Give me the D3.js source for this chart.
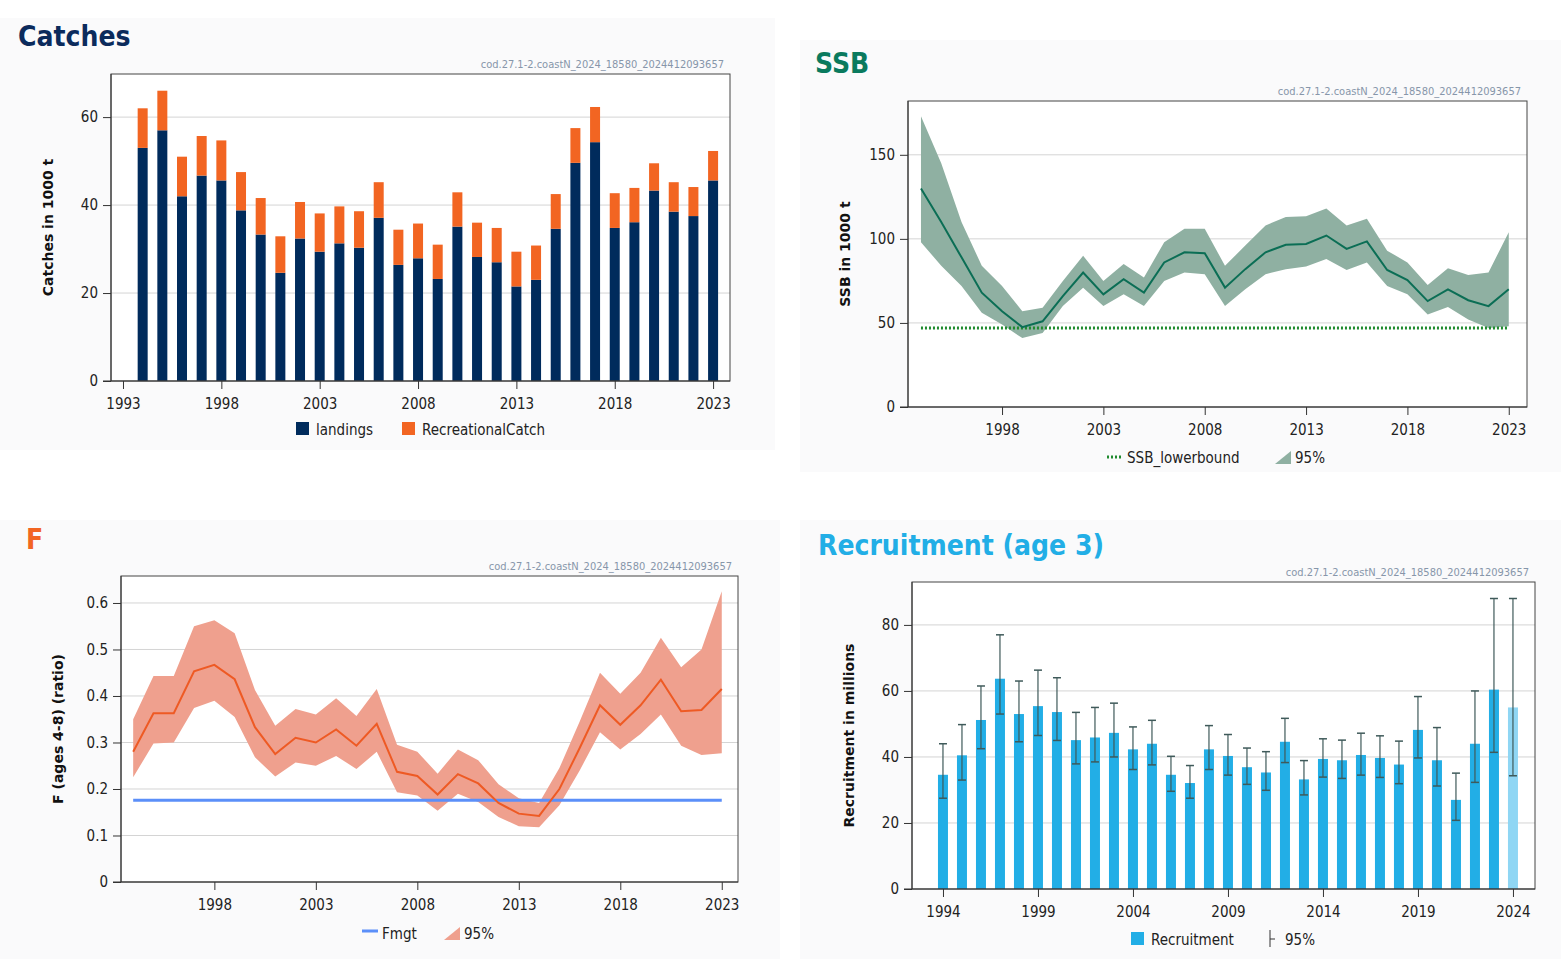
<!DOCTYPE html>
<html><head><meta charset="utf-8">
<script src="https://cdn.jsdelivr.net/npm/d3@7"></script>
<style>body{margin:0;background:#fff}svg{display:block}</style>
</head><body>
<svg id="c" width="1561" height="959"></svg>
<script>
const catchYears = d3.range(1994, 2024);
const landings = [53,57,42,46.7,45.6,38.8,33.3,24.6,32.4,29.4,31.3,30.3,37.1,26.4,27.9,23.2,35.1,28.2,27.0,21.5,23.0,34.6,49.6,54.3,34.8,36.1,43.3,38.5,37.5,45.6];
const totalCatch = [62,66,51,55.7,54.7,47.5,41.6,32.9,40.7,38.1,39.7,38.6,45.2,34.4,35.8,31.0,42.9,36.0,34.8,29.4,30.8,42.5,57.5,62.3,42.7,43.9,49.5,45.2,44.1,52.3];
const recreational = totalCatch.map((t,i)=>+(t-landings[i]).toFixed(1));

const ssbYears = d3.range(1994, 2024);
const ssb   = [130,110,89,68,57,47.5,51,66,80,67,76,68,86,92,91.5,71,82,92,96.5,97,102,94,98.5,81.5,75.5,63,70,63.5,60,70];
const ssbLo = [98,84,72,56,49,41,44,60,71,60,67,60,75,80,79,60,70,79,82,83.5,88,81.5,86,72,67,55,59.5,52,47,48];
const ssbHi = [173,145,110,84,72,57,59,75,90,75,85,77,98,106,106,84,96,108,113,113.5,118,108,112,93,86,72.5,82.5,78.5,80,104];
const ssbLowerBound = 47;

const fYears = d3.range(1994, 2024);
const fVal = [0.28,0.363,0.363,0.453,0.467,0.436,0.333,0.275,0.31,0.30,0.328,0.293,0.34,0.237,0.228,0.188,0.232,0.212,0.17,0.147,0.142,0.2,0.288,0.38,0.338,0.38,0.435,0.367,0.37,0.415];
const fLo  = [0.225,0.298,0.3,0.374,0.39,0.355,0.268,0.227,0.257,0.25,0.271,0.243,0.28,0.193,0.186,0.153,0.19,0.172,0.14,0.12,0.118,0.165,0.24,0.322,0.285,0.318,0.36,0.293,0.273,0.277];
const fHi  = [0.35,0.443,0.443,0.55,0.563,0.535,0.413,0.336,0.372,0.36,0.395,0.357,0.415,0.295,0.28,0.233,0.285,0.262,0.21,0.18,0.17,0.245,0.345,0.45,0.405,0.45,0.525,0.462,0.5,0.625];
const fmgt = 0.176;

const recYears = d3.range(1994, 2025);
const rec   = [34.6,40.5,51.2,63.7,53,55.4,53.6,45.1,45.9,47.3,42.3,44,34.6,32.1,42.3,40.3,36.9,35.3,44.6,33.2,39.4,39,40.6,39.7,37.7,48.2,39,27,44,60.4,55];
const recLo = [27.5,33,42.5,53,44.6,46.5,45,37.9,38.5,40,36.2,37.6,29.6,27.5,36.2,34.5,31.7,29.9,38.3,28.5,33.9,33.5,34.5,33.8,31.9,39.7,31.2,20.8,32.3,41.4,34.3];
const recHi = [44,49.8,61.5,77,63,66.3,64,53.5,55,56.3,49.1,51.1,40.2,37.4,49.5,46.8,42.7,41.6,51.7,38.9,45.5,45.1,47.2,46.4,44.8,58.3,48.9,35.1,60,88,88];

const svg = d3.select("#c");
const TF = "'Liberation Sans Narrow','DejaVu Sans Condensed','Roboto Condensed',sans-serif";
const WM = "cod.27.1-2.coastN_2024_18580_2024412093657";

function panel(o){
  svg.append("rect").attr("x",o.bg[0]).attr("y",o.bg[1]).attr("width",o.bg[2]).attr("height",o.bg[3]).attr("fill","#fafafb");
  svg.append("text").attr("x",o.tx).attr("y",o.ty).text(o.title)
    .attr("font-family",TF).attr("font-weight","bold").attr("font-size",28).attr("fill",o.tcol);
  const g = svg.append("g");
  const x = d3.scaleLinear().domain(o.xd).range([o.l,o.r]);
  const y = d3.scaleLinear().domain(o.yd).range([o.b,o.t]);
  g.append("rect").attr("x",o.l).attr("y",o.t).attr("width",o.r-o.l).attr("height",o.b-o.t).attr("fill","#fff");
  o.yt.filter(v=>v>0).forEach(v=>g.append("line").attr("x1",o.l).attr("x2",o.r).attr("y1",y(v)).attr("y2",y(v)).attr("stroke","#d4d4d4"));
  g.append("text").attr("x",o.r-6).attr("y",o.t-6).attr("text-anchor","end").text(WM)
    .attr("font-family",TF).attr("font-size",11).attr("fill","#8796aa");
  o.draw(g,x,y);
  g.append("rect").attr("x",o.l).attr("y",o.t).attr("width",o.r-o.l).attr("height",o.b-o.t).attr("fill","none").attr("stroke","#444");
  const ya = g.append("g").attr("transform",`translate(${o.l},0)`).call(d3.axisLeft(y).tickValues(o.yt).tickSize(8).tickPadding(5).tickSizeOuter(0).tickFormat(o.yf||d3.format("d")));
  const xa = g.append("g").attr("transform",`translate(0,${o.b})`).call(d3.axisBottom(x).tickValues(o.xt).tickSize(8).tickPadding(9).tickSizeOuter(0).tickFormat(d3.format("d")));
  [ya,xa].forEach(a=>{a.selectAll("text").attr("font-family",TF).attr("font-size",15).attr("fill","#222");a.selectAll("line,path").attr("stroke","#333");});
  ya.select(".domain").attr("d",`M0,${o.t}V${o.b}`);
  xa.select(".domain").attr("d",`M${o.l-8},0H${o.r}`);
  g.append("text").attr("transform",`translate(${o.l-58},${(o.t+o.b)/2}) rotate(-90)`).attr("text-anchor","middle")
    .text(o.ylab).attr("font-family","'DejaVu Sans',sans-serif").attr("font-weight","bold").attr("font-size",14).attr("fill","#111");
  let lx = o.legX;
  o.legend.forEach(it=>{
    it.sym(g,lx,o.legY);
    g.append("text").attr("x",lx+20).attr("y",o.legY+6).text(it.t).attr("font-family",TF).attr("font-size",15).attr("fill","#222");
    lx += it.w;
  });
}
const sq = c => (g,x,y)=>g.append("rect").attr("x",x).attr("y",y-7).attr("width",13).attr("height",13).attr("fill",c);
const tri = c => (g,x,y)=>g.append("path").attr("d",`M${x},${y+7}L${x+16},${y+7}L${x+16},${y-6}Z`).attr("fill",c);

panel({bg:[0,18,775,432],title:"Catches",tx:18,ty:46,tcol:"#0b2b5c",
  l:111,r:730,t:74,b:381,xd:[1992.39,2023.86],yd:[0,69.8],yt:[0,20,40,60],xt:[1993,1998,2003,2008,2013,2018,2023],
  ylab:"Catches in 1000 t",legX:296,legY:429,
  legend:[{t:"landings",w:106,sym:sq("#002b5c")},{t:"RecreationalCatch",w:150,sym:sq("#f26522")}],
  draw:(g,x,y)=>{
    const bw=10;
    g.selectAll(".l").data(catchYears).join("rect").attr("x",d=>x(d)-bw/2).attr("width",bw)
      .attr("y",(d,i)=>y(landings[i])).attr("height",(d,i)=>y(0)-y(landings[i])).attr("fill","#002b5c");
    g.selectAll(".r").data(catchYears).join("rect").attr("x",d=>x(d)-bw/2).attr("width",bw)
      .attr("y",(d,i)=>y(landings[i]+recreational[i])).attr("height",(d,i)=>y(landings[i])-y(landings[i]+recreational[i])).attr("fill","#f26522");
  }});

panel({bg:[800,40,761,432],title:"SSB",tx:815,ty:73,tcol:"#0a7a5e",
  l:908,r:1527,t:101,b:407,xd:[1993.36,2023.9],yd:[0,182],yt:[0,50,100,150],xt:[1998,2003,2008,2013,2018,2023],
  ylab:"SSB in 1000 t",legX:1107,legY:457,
  legend:[{t:"SSB_lowerbound",w:168,sym:(g,x,y)=>g.append("line").attr("x1",x).attr("x2",x+16).attr("y1",y).attr("y2",y).attr("stroke","#1f8a2e").attr("stroke-width",3).attr("stroke-dasharray","2,2")},
          {t:"95%",w:60,sym:tri("#8fb0a2")}],
  draw:(g,x,y)=>{
    g.append("path").datum(ssbYears).attr("fill","#8fb0a2")
      .attr("d",d3.area().x(d=>x(d)).y0((d,i)=>y(ssbLo[i])).y1((d,i)=>y(ssbHi[i])));
    g.append("line").attr("x1",x(1994)).attr("x2",x(2023)).attr("y1",y(ssbLowerBound)).attr("y2",y(ssbLowerBound))
      .attr("stroke","#1f8a2e").attr("stroke-width",3).attr("stroke-dasharray","2,2");
    g.append("path").datum(ssbYears).attr("fill","none").attr("stroke","#0b6e55").attr("stroke-width",2)
      .attr("d",d3.line().x(d=>x(d)).y((d,i)=>y(ssb[i])));
  }});

panel({bg:[0,520,780,439],title:"F",tx:26,ty:549,tcol:"#f26522",
  l:121,r:738,t:576,b:882,xd:[1993.4,2023.8],yd:[0,0.658],yt:[0,0.1,0.2,0.3,0.4,0.5,0.6],xt:[1998,2003,2008,2013,2018,2023],
  yf:v=>v===0?"0":d3.format(".1f")(v),
  ylab:"F (ages 4-8) (ratio)",legX:362,legY:933,
  legend:[{t:"Fmgt",w:82,sym:(g,x,y)=>g.append("line").attr("x1",x).attr("x2",x+16).attr("y1",y-2).attr("y2",y-2).attr("stroke","#5b8ff9").attr("stroke-width",3)},
          {t:"95%",w:60,sym:tri("#efa08e")}],
  draw:(g,x,y)=>{
    g.append("path").datum(fYears).attr("fill","#efa08e")
      .attr("d",d3.area().x(d=>x(d)).y0((d,i)=>y(fLo[i])).y1((d,i)=>y(fHi[i])));
    g.append("line").attr("x1",x(1994)).attr("x2",x(2023)).attr("y1",y(fmgt)).attr("y2",y(fmgt))
      .attr("stroke","#5b8ff9").attr("stroke-width",3);
    g.append("path").datum(fYears).attr("fill","none").attr("stroke","#ee5a24").attr("stroke-width",2)
      .attr("d",d3.line().x(d=>x(d)).y((d,i)=>y(fVal[i])));
  }});

panel({bg:[800,520,761,439],title:"Recruitment (age 3)",tx:818,ty:555,tcol:"#22aee6",
  l:912,r:1535,t:582,b:889,xd:[1992.37,2025.16],yd:[0,93],yt:[0,20,40,60,80],xt:[1994,1999,2004,2009,2014,2019,2024],
  ylab:"Recruitment in millions",legX:1131,legY:939,
  legend:[{t:"Recruitment",w:134,sym:sq("#22aee6")},
          {t:"95%",w:60,sym:(g,x,y)=>g.append("path").attr("d",`M${x+5},${y-9}V${y+8}M${x+5},${y}H${x+10}`).attr("stroke","#333").attr("fill","none")}],
  draw:(g,x,y)=>{
    const bw=10, n=recYears.length;
    g.selectAll(".b").data(recYears).join("rect").attr("x",d=>x(d)-bw/2).attr("width",bw)
      .attr("y",(d,i)=>y(rec[i])).attr("height",(d,i)=>y(0)-y(rec[i])).attr("fill",(d,i)=>i===n-1?"#8fd6f4":"#22aee6");
    const e = g.selectAll(".e").data(recYears).join("g");
    e.append("line").attr("x1",d=>x(d)).attr("x2",d=>x(d)).attr("y1",(d,i)=>y(recLo[i])).attr("y2",(d,i)=>y(recHi[i])).attr("stroke","#3f5a5a").attr("stroke-width",1.2);
    e.append("line").attr("x1",d=>x(d)-4).attr("x2",d=>x(d)+4).attr("y1",(d,i)=>y(recLo[i])).attr("y2",(d,i)=>y(recLo[i])).attr("stroke","#3f5a5a").attr("stroke-width",1.5);
    e.append("line").attr("x1",d=>x(d)-4).attr("x2",d=>x(d)+4).attr("y1",(d,i)=>y(recHi[i])).attr("y2",(d,i)=>y(recHi[i])).attr("stroke","#3f5a5a").attr("stroke-width",1.5);
  }});
</script>
</body></html>
